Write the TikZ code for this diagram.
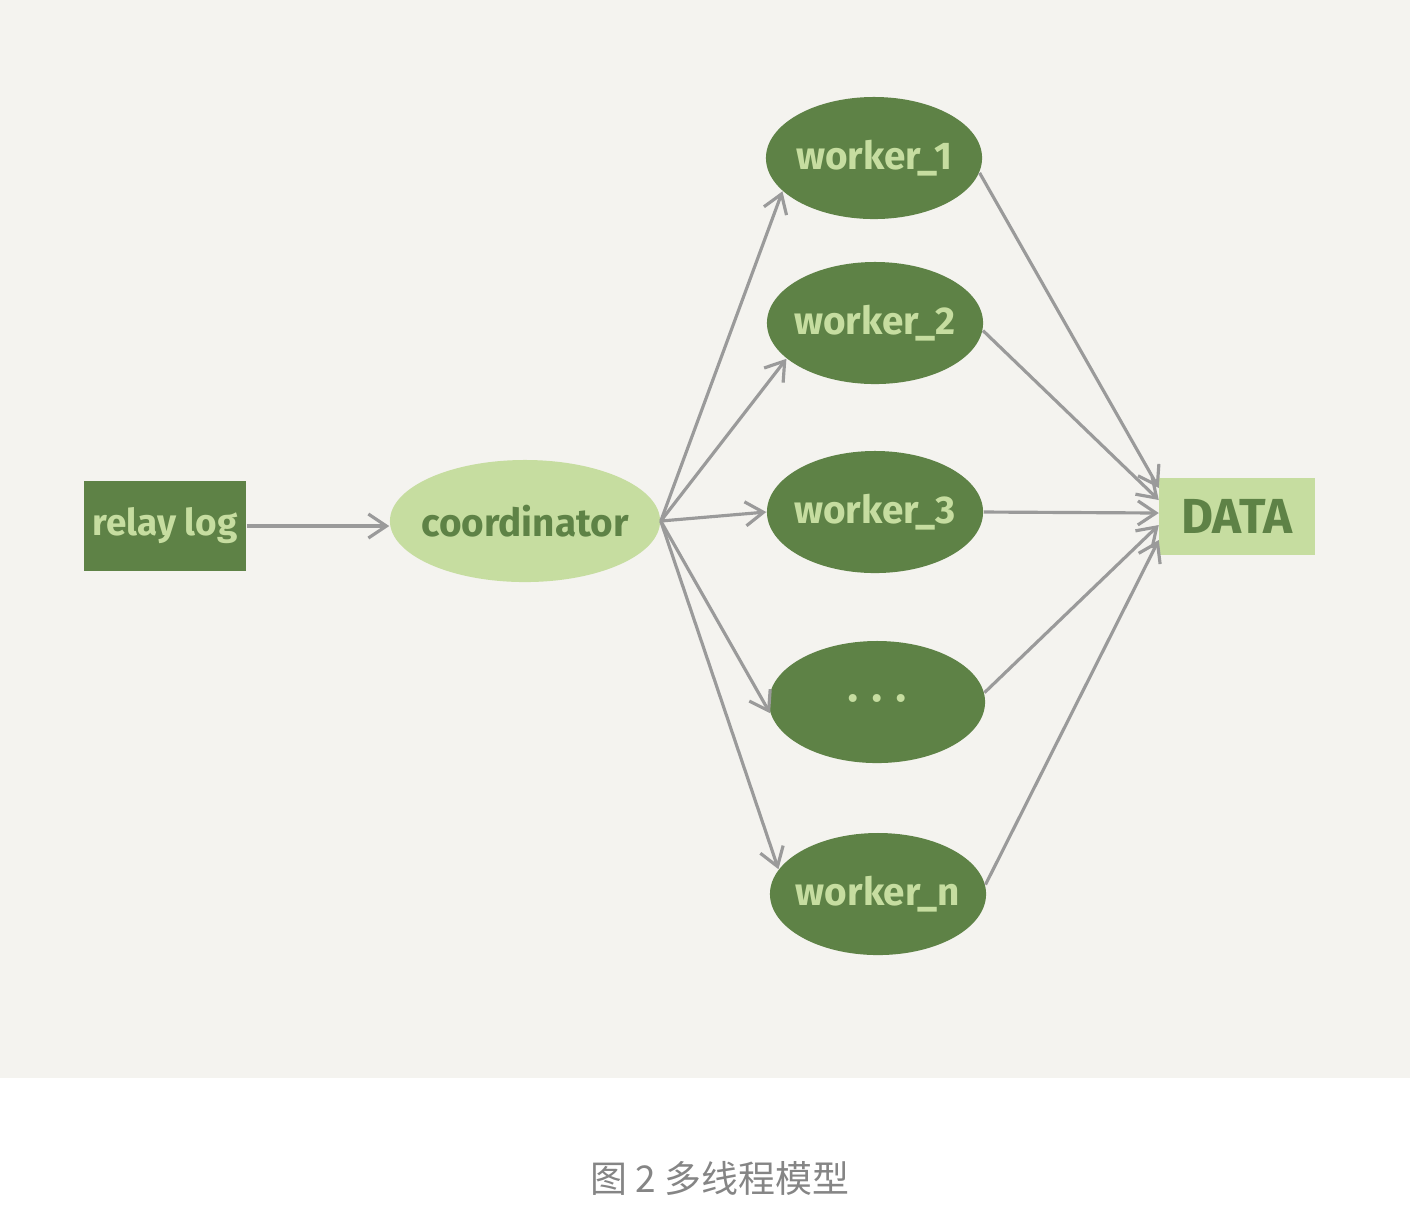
\documentclass[tikz,border=0pt]{standalone}
\usepackage{fontspec}
\setmainfont{Fira Sans}
\newfontfamily\cjk{Noto Sans CJK SC}
\usetikzlibrary{shapes.geometric,arrows.meta}
\definecolor{bgbeige}{HTML}{F4F3EF}
\definecolor{darkgreen}{HTML}{5E8246}
\definecolor{lightgreen}{HTML}{C6DDA0}
\definecolor{arrowgray}{HTML}{9A9A9A}
\definecolor{captiongray}{HTML}{858585}

\begin{document}
\begin{tikzpicture}[x=0.01cm, y=-0.01cm,
  label font/.style={font=\bfseries\fontsize{11}{13}\selectfont},
  worker/.style={ellipse, fill=darkgreen, text=lightgreen, label font,
    minimum width=2.16cm, minimum height=1.22cm, inner xsep=-2mm, inner ysep=0pt},
  flow/.style={draw=arrowgray, line width=0.9pt,
    -{Straight Barb[length=1.8mm,width=2.4mm]}}]
\fill[white] (0,0) rectangle (1410,1226);
\fill[bgbeige] (0,0) rectangle (1410,1078);
\useasboundingbox (0,0) rectangle (1410,1226);

% sources
\node[rectangle, fill=darkgreen, text=lightgreen, font=\bfseries\fontsize{10.5}{13}\selectfont,
  minimum width=1.62cm, minimum height=0.9cm, inner sep=0pt] (relay) at (165,526) {relay log};
\node[ellipse, fill=lightgreen, text=darkgreen, label font,
  minimum width=2.7cm, minimum height=1.22cm, inner xsep=-2mm, inner ysep=0pt] (coord) at (525,521) {coordinator};

% workers
\node[worker] (w1) at (874,158) {worker\_1};
\node[worker] (w2) at (875,323) {worker\_2};
\node[worker] (w3) at (875,512) {worker\_3};
\node[worker, font=\fontsize{10}{12}\selectfont] (wd) at (877,702)
  {\textbullet\hspace{3.6pt}\textbullet\hspace{3.6pt}\textbullet};
\node[worker] (wn) at (878,894) {worker\_n};

% sink
\node[rectangle, fill=lightgreen, text=darkgreen, font=\bfseries\fontsize{14}{16}\selectfont,
  minimum width=1.55cm, minimum height=0.77cm, inner sep=0pt] (data) at (1237,516) {DATA};
\coordinate (in1) at ([yshift=2.8mm]data.west);
\coordinate (in2) at ([yshift=1.6mm]data.west);
\coordinate (in3) at ([yshift=0.3mm]data.west);
\coordinate (in4) at ([yshift=-0.9mm]data.west);
\coordinate (in5) at ([yshift=-2.4mm]data.west);

\draw[flow] (relay.east) -- (relay.east -| coord.west);

\draw[flow] (coord.east) -- (w1.200);
\draw[flow] (coord.east) -- (w2.202);
\draw[flow] (coord.east) -- (w3.west);
\draw[flow] (coord.east) -- (wd.186);
\draw[flow] (coord.east) -- (wn.166);

\draw[flow] (w1.-8) -- (in1);
\draw[flow] (w2.-4) -- (in2);
\draw[flow] (w3.east) -- (in3);
\draw[flow] (wd.5) -- (in4);
\draw[flow] (wn.5) -- (in5);

% caption
\node[text=captiongray, font=\cjk\fontsize{10.5}{13}\selectfont] (caption) at (720,1178) {图 2 多线程模型};
\end{tikzpicture}
\end{document}
